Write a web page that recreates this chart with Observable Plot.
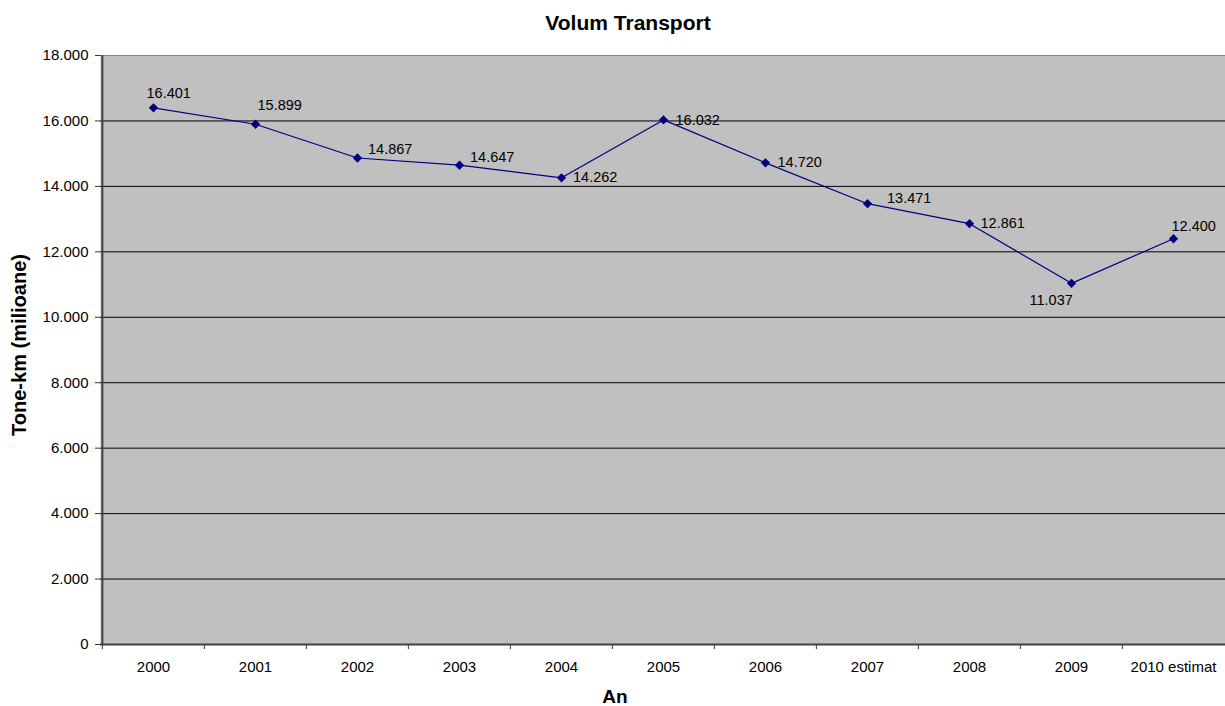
<!DOCTYPE html>
<html>
<head>
<meta charset="utf-8">
<script src="https://cdn.jsdelivr.net/npm/d3@7"></script>
<script src="https://cdn.jsdelivr.net/npm/@observablehq/plot@0.6"></script>
<style>
  body { margin: 0; background: #fff; font-family: "Liberation Sans", Arial, sans-serif; }
  #title { height: 40px; width: 1225px; position: relative; }
  #title span { position: absolute; top: 12px; left: 0; width: 1256px; text-align: center;
    font-size: 21px; font-weight: bold; line-height: 1; color: #000; }
  #chart svg { display: block; }
</style>
</head>
<body>
<div id="title"><span>Volum Transport</span></div>
<div id="chart"></div>
<script>
const years = ["2000", "2001", "2002", "2003", "2004", "2005", "2006", "2007", "2008", "2009", "2010 estimat"];
const volumes = [16401, 15899, 14867, 14647, 14262, 16032, 14720, 13471, 12861, 11037, 12400];
const yTicks = [0, 2000, 4000, 6000, 8000, 10000, 12000, 14000, 16000, 18000];
const yLabel = "Tone-km (milioane)";
const xLabel = "An";

// label placement offsets (pixels, relative to each point)
const labelDx = [-7, 2, 10.5, 10.5, 11.5, 12, 12, 19.5, 11, -42, -2];
const labelDy = [-14, -18.5, -9, -7.5, 0, 0, 0, -5, 0, 17.5, -12.5];

const ro = d3.formatLocale({decimal: ",", thousands: ".", grouping: [3], currency: ["", ""]});
const fmt = ro.format(",");

const data = years.map((year, i) => ({year, value: volumes[i], i}));

const W = 1225, H = 666;
const mL = 100, mR = 0, mT = 15, mB = 62;
const step = (W - mL - mR) / years.length;

const labelMarks = data.map(d => Plot.text([d], {
  x: "year", y: "value", text: v => fmt(v.value),
  textAnchor: "start", dx: labelDx[d.i], dy: labelDy[d.i],
  fontSize: 14.5, fill: "#000"
}));

const chart = Plot.plot({
  width: W, height: H,
  marginLeft: mL, marginRight: mR, marginTop: mT, marginBottom: mB,
  style: {fontFamily: "'Liberation Sans', Arial, sans-serif", color: "#000", background: "#fff"},
  x: {type: "point", domain: years, padding: 0.5, align: 0.5},
  y: {domain: [0, 18000]},
  marks: [
    Plot.frame({fill: "#c0c0c0", stroke: null}),
    Plot.ruleY(yTicks.filter(v => v > 0 && v < 18000), {stroke: "#000", strokeWidth: 1}),
    Plot.ruleY([18000], {stroke: "#808080", strokeWidth: 1}),
    Plot.axisY({ticks: yTicks, tickFormat: fmt, tickSize: 5, tickPadding: 7, fontSize: 15, label: null, stroke: "#333"}),
    Plot.axisX({tickSize: 0, tickPadding: 17, fontSize: 15, label: null}),
    Plot.axisX({tickSize: 5, tickFormat: () => "", dx: -step / 2, label: null, stroke: "#333"}),
    Plot.ruleY([0], {stroke: "#404040", strokeWidth: 2}),
    Plot.ruleX([years[0]], {dx: -step / 2, stroke: "#404040", strokeWidth: 2}),
    Plot.line(data, {x: "year", y: "value", stroke: "#000080", strokeWidth: 1.2}),
    Plot.dot(data, {x: "year", y: "value", symbol: "diamond2", r: 4.2, fill: "#000080", stroke: null}),
    ...labelMarks,
    Plot.text([yLabel], {frameAnchor: "left", textAnchor: "middle", rotate: -90, dx: -80.5, dy: -5, fontSize: 20, fontWeight: "bold", fill: "#000"}),
    Plot.text([xLabel], {frameAnchor: "bottom", textAnchor: "middle", dx: 614.5 - (mL + (W - mL - mR) / 2), dy: 58, fontSize: 19, fontWeight: "bold", fill: "#000"})
  ]
});
document.getElementById("chart").appendChild(chart);
</script>
</body>
</html>
